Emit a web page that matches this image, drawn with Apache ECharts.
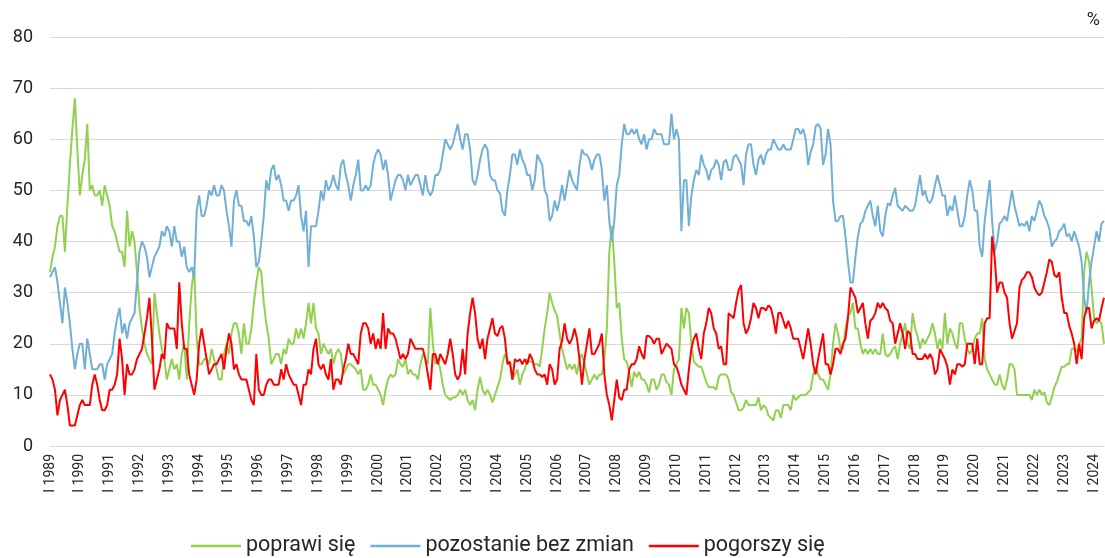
<!DOCTYPE html>
<html>
<head>
<meta charset="utf-8">
<script src="https://cdn.jsdelivr.net/npm/echarts@6.0.0/dist/echarts.min.js"></script>
<style>
html, body { margin: 0; padding: 0; background: #fff; }
#chart { width: 1105px; height: 558px; }
</style>
</head>
<body>
<div id="chart"></div>
<script>
// lata na osi (etykieta co styczeń)
var years = [1989, 1990, 1991, 1992, 1993, 1994, 1995, 1996, 1997, 1998, 1999, 2000,
    2001, 2002, 2003, 2004, 2005, 2006, 2007, 2008, 2009, 2010, 2011, 2012,
    2013, 2014, 2015, 2016, 2017, 2018, 2019, 2020, 2021, 2022, 2023, 2024];
var monthNames = ['I', 'II', 'III', 'IV', 'V', 'VI', 'VII', 'VIII', 'IX', 'X', 'XI', 'XII'];
var seriesNames = ['poprawi się', 'pozostanie bez zmian', 'pogorszy się'];

// poprawi się (%)
var poprawi = [
    34, 37, 39, 43, 45, 45, 38, 47, 55, 62, 68, 58,
    49, 53, 56, 63, 50, 51, 49, 49, 50, 47, 51, 49,
    47, 43, 42, 40, 38, 38, 35, 46, 39, 42, 40, 34,
    27, 23, 20, 18, 17, 16, 30, 26, 22, 19, 17, 13,
    15, 17, 15, 16, 13, 18, 20, 13, 24, 31, 35, 21,
    16, 16, 17, 17, 16, 19, 17, 15, 13, 13, 18, 20,
    18, 22, 24, 24, 22, 18, 24, 20, 20, 23, 28, 32,
    35, 34, 28, 24, 21, 16, 17, 18, 18, 16, 19, 18,
    21, 20, 20, 23, 21, 23, 21, 24, 28, 24, 28, 23,
    22, 18, 20, 19, 18, 19, 16, 18, 19, 18, 14, 15,
    16, 16, 15.5, 15, 14, 15, 11, 11, 12, 14, 12, 12,
    11, 10, 8, 11, 13, 14, 13.5, 14, 17, 16, 15.5, 17,
    14, 15, 14, 14, 13, 16, 18, 17, 16, 27, 20, 16,
    17, 15, 12, 10, 9.5, 9, 9.5, 9.5, 10, 11, 10, 11,
    9, 8, 9, 7, 11, 13.5, 11, 10, 11, 10, 8.5, 10,
    11.5, 13, 16, 18, 17, 16, 13, 14, 15, 12, 14, 15,
    17, 16.5, 16.5, 16, 16, 15.5, 19, 23, 26, 30, 28, 26.5,
    25.5, 22, 19, 17, 15, 16, 15, 16, 14, 17, 18, 16,
    14, 12, 13, 14, 13, 14, 14, 17, 23, 38, 43, 36,
    27, 28, 21, 17, 16.5, 14.5, 11.5, 14.5, 13.5, 14.5, 13, 13,
    12, 10.5, 13, 13, 11, 12, 14, 14, 12.5, 12, 10, 15,
    16, 17, 27, 23, 27, 26, 20, 16.5, 16, 15.5, 15.5, 14,
    12.5, 11.5, 11.5, 11.5, 11, 13.5, 14, 14, 14, 13, 10.5, 10,
    8.5, 7, 7, 7.5, 9, 8, 8, 8, 8, 9.5, 7, 8,
    7.5, 6, 5.5, 5, 7, 7, 5.5, 8, 8, 8, 7, 10,
    9, 9.5, 10, 10, 10, 10.5, 11, 14, 15.5, 14, 13, 13,
    12, 11, 14, 20, 24, 22, 19, 19, 23, 25.5, 26, 28,
    23, 23, 20, 18, 19, 18, 19, 18, 19, 18, 18, 22,
    18, 17.5, 18, 19, 19.5, 17, 20, 22, 24, 20, 19, 26,
    23, 21.5, 19, 21, 20, 21, 22, 24, 22, 19, 21, 19,
    26, 20, 23, 22, 20, 19, 24, 24, 21, 19, 18, 19,
    21, 22, 22, 25, 17, 15, 14, 13, 12, 12, 14, 12,
    11, 13, 16, 16, 15, 10, 10, 10, 10, 10, 10, 9,
    11, 10, 11, 10, 10.5, 8.5, 8, 9.5, 11.5, 12.5, 14, 15.5,
    15.5, 16, 16, 19, 19, 18.5, 20, 21, 34, 38, 36, 31,
    25, 24, 24.5, 24, 20
];

// pozostanie bez zmian (%)
var bezZmian = [
    33, 34, 35, 32, 28, 24, 31, 28, 24, 19, 15, 18,
    20, 20, 15, 21, 18, 15, 15, 15, 16, 16, 13, 16,
    17, 18, 22, 25, 27, 22, 24, 21, 24, 25, 26, 32,
    38, 40, 39, 37, 33, 35, 37, 38, 39, 42, 41, 43,
    42, 39, 43, 40, 40, 37, 39, 35, 34, 35, 33, 46,
    49, 45, 45, 47, 50, 49, 51, 49, 49, 51, 50, 46,
    43, 39, 48, 50, 47, 47, 44, 44, 43, 45, 41, 35,
    36, 40, 45, 52, 50, 54, 55, 52, 53, 51, 48, 48,
    46, 48, 48, 49, 51, 45, 42, 46, 35, 43, 43, 43,
    46, 50, 48, 52, 50, 51, 53, 51, 50, 55, 56, 53,
    51, 48, 51, 53, 56, 50, 50, 51, 50, 51, 55, 57,
    58, 57, 54, 56, 53, 48, 50, 52, 53, 53, 52, 50,
    53, 51, 52, 53, 53, 51, 49, 53, 50, 49, 50, 53,
    53, 54, 57, 60, 59, 58, 59, 61, 63, 60, 58, 61,
    61, 58, 52, 51, 53, 56, 58, 59, 58, 53, 52, 52,
    50, 49.5, 46, 45, 50, 53, 57, 57, 55, 58, 56, 55,
    53, 53, 50, 52, 57, 56, 55, 50, 49, 44, 45, 48,
    46, 48, 51, 48, 51, 54, 52, 51, 50, 55, 58, 57,
    57, 56, 54, 56, 57, 57, 54, 48, 51, 44, 40, 44,
    51, 53, 59, 63, 61, 61, 62, 61, 62, 60, 59, 61,
    58, 60, 60, 62, 61, 61, 61, 59, 59, 59, 65, 60,
    62, 60, 42, 52, 52, 43, 49, 52, 54, 53, 57, 55,
    54, 52, 54, 54.5, 56, 55, 52, 55.5, 56, 54, 54, 56.5,
    57, 56, 55, 51, 57, 59, 59, 55, 53, 56, 57, 55,
    57, 58, 58, 60, 59, 58, 58, 59, 58, 58, 58, 60,
    62, 62, 61, 62, 60, 55, 57.5, 59, 62.5, 63, 62, 55,
    57, 62, 59, 48, 44, 44, 45, 45, 41, 36, 32, 32,
    37, 41, 43.5, 44, 46, 47, 48, 45, 43, 47, 42, 41,
    45, 47.5, 47, 49, 50.5, 47, 46.5, 46, 47, 46.5, 46, 46,
    47, 50, 53, 49, 50, 48, 47.5, 48.5, 51, 53, 51, 49,
    49, 45, 47, 46, 49, 46, 43, 43, 45, 49, 52, 50,
    46, 46, 39, 37, 44, 48, 52, 44, 38, 40, 43.5, 44,
    45, 44, 47, 50, 47, 45, 43, 43.5, 43, 44, 42, 45,
    44, 46, 48, 47, 45, 44, 42.5, 39, 40, 40.5, 42, 42.5,
    43.5, 41, 41.5, 40, 42, 40.5, 39, 36, 29, 26, 32, 36,
    39, 42, 40, 43.5, 44
];

// pogorszy się (%)
var pogorszy = [
    14, 13, 11, 6, 9, 10, 11, 8, 4, 4, 4, 6,
    8, 9, 8, 8, 8, 12, 14, 12, 9, 7, 7, 8,
    11, 11, 12, 14, 21, 17, 10, 16, 14, 14, 15, 17,
    18, 19, 22, 25, 29, 21, 11, 13, 15, 18, 17, 24,
    23, 23, 23, 19, 32, 24, 19, 19, 14, 12, 10, 13,
    20, 23, 20, 17, 14, 15, 16, 16, 17, 18, 15, 19,
    22, 20, 15, 16, 14, 13, 13, 13, 11, 9, 8, 18,
    11, 10, 10, 12, 13, 13, 12, 12, 12, 15, 13, 16,
    14, 13, 12, 12, 10, 8, 12, 12, 15, 14, 19, 21,
    16, 15, 16, 14, 13, 17, 11, 13, 13, 12, 15, 17,
    20, 18, 18, 17, 16, 22, 24, 24, 23, 20, 22, 19,
    21, 19, 26, 19, 23, 22, 22, 21, 19, 17, 18, 17,
    18, 21, 20, 19, 19, 19, 19, 17, 14, 11, 18, 18,
    16, 18, 17, 16, 18, 21, 18, 14, 13, 14, 19, 14,
    22, 26, 29, 26, 21, 19, 21, 17, 21, 23, 25, 22,
    21.5, 23, 23.5, 21, 16, 16.5, 13, 17, 16.5, 17, 16, 17,
    16, 18, 17, 15, 14, 14, 13.5, 14, 12, 16, 15, 12,
    13, 19, 20.5, 24, 21, 20, 21, 23, 21, 17, 12, 17,
    20, 23, 18, 18, 19, 20, 22, 14, 10, 8, 5, 9,
    13, 9.5, 9, 11, 11, 15, 16, 16, 17, 19.5, 18, 17,
    21.5, 21.5, 21, 20, 21, 21, 18, 19, 20, 19.5, 19, 16,
    15.5, 14, 12, 11, 10, 15, 19, 21, 22, 19, 17, 22,
    24, 27, 26, 23, 22, 19, 19.5, 16, 16, 26, 25.5, 25,
    28, 30.5, 31.5, 24, 22, 23, 25, 28, 27, 25, 27, 27,
    26.5, 27.5, 27, 25, 22, 26, 26, 24.5, 23, 24.5, 23, 21,
    21, 21, 19, 17, 20, 23, 20, 16, 14, 17, 19.5, 22,
    16, 16, 14, 16, 19, 19, 18, 20, 21, 25, 31, 30,
    29, 26, 27, 28, 24, 21, 24.5, 25, 26, 28, 27, 28,
    27, 26.5, 24.5, 24, 20, 22, 24, 22, 19, 22.5, 22, 18,
    18, 17, 17, 17, 18, 17, 18, 17, 14, 15, 19, 18,
    17, 15.5, 12, 15, 14, 16, 16, 15.5, 16, 20, 20, 20,
    16, 21, 16, 16, 24, 25, 25, 41, 37, 30, 32, 32,
    30, 29, 24, 21, 22.5, 24, 31, 32.5, 33, 34, 34, 33,
    31, 30, 29.5, 30, 32, 34, 36.5, 36, 33.5, 33, 34, 29,
    26, 26, 23.5, 22, 20, 16, 20, 17, 25, 27, 27, 23,
    24.5, 25, 24.5, 27, 29
];

var colors = ['#92D050', '#71B0D6', '#FF0000'];

// kategorie miesięczne, np. "I 1989"
var months = [];
for (var y = 0; y < years.length; y++) {
    for (var m = 0; m < 12; m++) {
        if (months.length < poprawi.length) {
            months.push(monthNames[m] + ' ' + years[y]);
        }
    }
}

var chart = echarts.init(document.getElementById('chart'));

function lineSeries(name, data, color) {
    return {
        name: name,
        type: 'line',
        data: data,
        symbol: 'none',
        smooth: false,
        lineStyle: {color: color, width: 2},
        itemStyle: {color: color}
    };
}

var option = {
    animation: false,
    textStyle: {fontFamily: 'Roboto'},
    color: colors,
    grid: {left: 50, right: 1, top: 37, bottom: 112},
    legend: {
        data: seriesNames,
        icon: 'rect',
        left: 186,
        bottom: -4,
        itemWidth: 50,
        itemHeight: 2.5,
        itemGap: 15,
        textStyle: {fontSize: 21.5, color: '#262626', fontFamily: 'Roboto'}
    },
    graphic: [{
        type: 'text',
        right: 5,
        top: 11,
        style: {text: '%', fontSize: 18, fill: '#262626', fontFamily: 'Roboto'}
    }],
    xAxis: {
        type: 'category',
        data: months,
        boundaryGap: false,
        axisLine: {lineStyle: {color: '#d9d9d9', width: 1}},
        axisTick: {show: false},
        splitLine: {show: false},
        axisLabel: {
            interval: function (idx) { return idx % 12 === 0; },
            rotate: 90,
            fontSize: 14,
            color: '#262626',
            margin: 8
        }
    },
    yAxis: {
        type: 'value',
        min: 0,
        max: 80,
        interval: 10,
        axisLine: {show: false},
        axisTick: {show: false},
        axisLabel: {fontSize: 18, color: '#262626', margin: 17},
        splitLine: {lineStyle: {color: '#d9d9d9', width: 1}}
    },
    series: [
        lineSeries(seriesNames[0], poprawi, colors[0]),
        lineSeries(seriesNames[1], bezZmian, colors[1]),
        lineSeries(seriesNames[2], pogorszy, colors[2])
    ]
};

chart.setOption(option);
</script>
</body>
</html>
